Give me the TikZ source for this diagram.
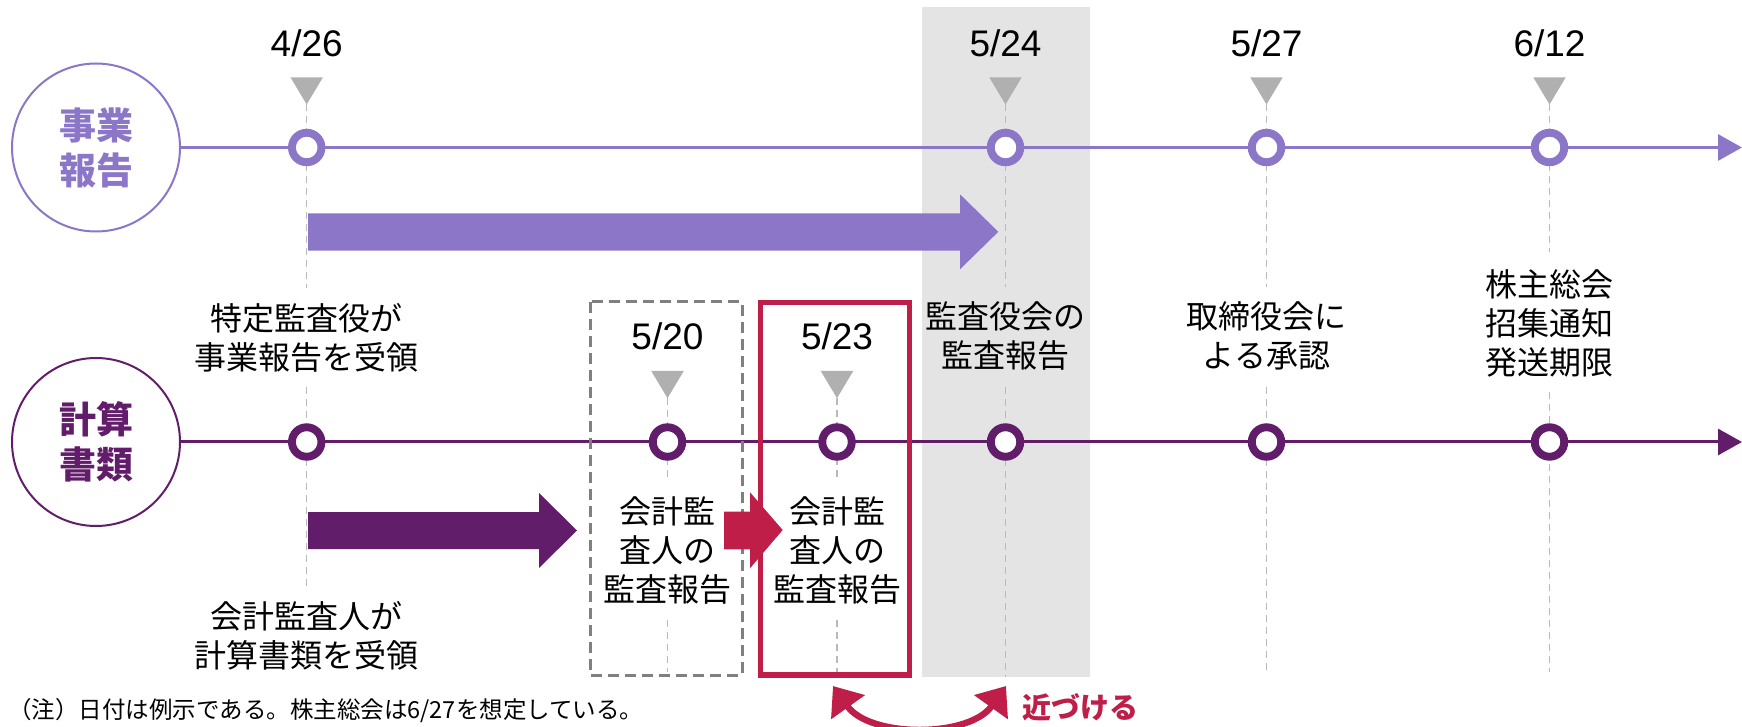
\documentclass[tikz,border=0pt]{standalone}
\usepackage{fontspec}
\setmainfont{Liberation Sans}
\newfontfamily\jp{Noto Sans CJK JP}
\usetikzlibrary{arrows.meta}
\definecolor{lpur}{RGB}{140,118,200}
\definecolor{dpur}{RGB}{98,29,106}
\definecolor{crim}{RGB}{190,30,72}
\definecolor{tric}{RGB}{176,176,176}
\definecolor{bgc}{RGB}{228,228,228}
\definecolor{guidec}{RGB}{185,185,185}
\definecolor{boxgray}{RGB}{128,128,128}
\begin{document}
\begin{tikzpicture}[x=0.5pt,y=-0.5pt,
  datelbl/.style={font=\fontsize{18.5}{22}\selectfont, inner sep=0pt},
  lbl/.style={font=\jp\fontsize{16}{19.5}\selectfont, align=center, inner sep=0pt},
  cat/.style={circle, draw, line width=1pt, minimum size=84pt, inner sep=0pt,
    font=\jp\bfseries\fontsize{18.5}{22.5}\selectfont, align=center},
  marker/.style={circle, draw, fill=white, line width=3.95pt, minimum size=14.75pt, inner sep=0pt},
  tl/.style={line width=1.5pt, -{Triangle[length=12pt,width=13pt]}},
  guide/.style={draw=guidec, line width=0.7pt, dash pattern=on 3.5pt off 2.5pt},
  dbox/.style={draw=boxgray, line width=1.5pt, dash pattern=on 5.5pt off 3pt},
  rbox/.style={draw=crim, line width=2.65pt},
]
\useasboundingbox (0,0) rectangle (1742,727);
% highlighted column
\fill[bgc] (922,7) rectangle (1090,677);
% guide lines
\draw[guide] (306.7,104.5) -- (306.7,288);
\draw[guide] (306.7,387) -- (306.7,587);
\draw[guide] (667.5,398) -- (667.5,480);
\draw[guide] (667.5,620) -- (667.5,672);
\draw[guide] (837,398) -- (837,480);
\draw[guide] (837,620) -- (837,672);
\draw[guide] (1005.5,104.5) -- (1005.5,287);
\draw[guide] (1005.5,387) -- (1005.5,677);
\draw[guide] (1266.5,104.5) -- (1266.5,287);
\draw[guide] (1266.5,387) -- (1266.5,672);
\draw[guide] (1549.5,104.5) -- (1549.5,252);
\draw[guide] (1549.5,392) -- (1549.5,672);
% category circles
\node[cat, draw=lpur, text=lpur] (biz) at (96,147.5) {事業\\報告};
\node[cat, draw=dpur, text=dpur] (fin) at (96,442) {計算\\書類};
% timelines
\coordinate (bizend) at (1742,147.5);
\coordinate (finend) at (1742,442);
\draw[tl, lpur] (biz.east) -- (bizend);
\draw[tl, dpur] (fin.east) -- (finend);
% block arrows
\fill[lpur] (308,213.3) -- (960,213.3) -- (960,194.3) -- (998.3,231.8) -- (960,269.3) -- (960,250.7) -- (308,250.7) -- cycle;
\fill[dpur] (308,512) -- (539,512) -- (539,493) -- (577,530.5) -- (539,568) -- (539,549) -- (308,549) -- cycle;
% boxes
\draw[dbox] (590,302) rectangle (742,675);
\draw[rbox] (760.5,302.5) rectangle (909.5,675);
\fill[crim] (724,511.7) -- (750,511.7) -- (750,492.3) -- (782.7,530) -- (750,568.3) -- (750,549.3) -- (724,549.3) -- cycle;
% triangles
\foreach \x/\y in {306.7/77.3, 1005.5/77.3, 1266.5/77.3, 1549.5/77.3, 667.5/371, 837/371}
  \fill[tric] (\x-16.25,\y) -- (\x+16.25,\y) -- (\x,\y+27.2) -- cycle;
% markers
\node[marker, draw=lpur] (t1) at (306.7,147.5) {};
\node[marker, draw=lpur] (t4) at (1005.5,147.5) {};
\node[marker, draw=lpur] (t5) at (1266.5,147.5) {};
\node[marker, draw=lpur] (t6) at (1549.5,147.5) {};
\node[marker, draw=dpur] (b1) at (306.7,442) {};
\node[marker, draw=dpur] (b2) at (667.5,442) {};
\node[marker, draw=dpur] (b3) at (837,442) {};
\node[marker, draw=dpur] (b4) at (1005.5,442) {};
\node[marker, draw=dpur] (b5) at (1266.5,442) {};
\node[marker, draw=dpur] (b6) at (1549.5,442) {};
% dates
\node[datelbl] (d1) at (306.7,43.5) {4/26};
\node[datelbl] (d4) at (1005.5,43.5) {5/24};
\node[datelbl] (d5) at (1266.5,43.5) {5/27};
\node[datelbl] (d6) at (1549.5,43.5) {6/12};
\node[datelbl] (d2) at (667.5,336.7) {5/20};
\node[datelbl] (d3) at (837,336.7) {5/23};
% labels
\node[lbl] (l1) at (306.7,338) {特定監査役が\\事業報告を受領};
\node[lbl] (l4) at (1005.5,336) {監査役会の\\監査報告};
\node[lbl] (l5) at (1266.5,336) {取締役会に\\よる承認};
\node[lbl] (l6) at (1549.5,323) {株主総会\\招集通知\\発送期限};
\node[lbl] (l2) at (667.5,550) {会計監\\査人の\\監査報告};
\node[lbl] (l3) at (837,550) {会計監\\査人の\\監査報告};
\node[lbl] (l7) at (306.7,636) {会計監査人が\\計算書類を受領};
% bring closer arrow
\coordinate (cl) at (833,686);
\coordinate (cr) at (1006,686);
\draw[crim, line width=3.2pt, {Triangle[length=13pt,width=20pt]}-{Triangle[length=13pt,width=20pt]}] (cl) .. controls (870,738) and (969,738) .. (cr);
\node[font=\jp\bfseries\fontsize{14.5}{17}\selectfont, text=crim, anchor=west, inner sep=0pt] (near) at (1022,707) {近づける};
% footnote
\node[font=\jp\fontsize{11.75}{14}\selectfont, anchor=west, inner sep=0pt] (note) at (8,711) {（注）日付は例示である。株主総会は6/27を想定している。};
\end{tikzpicture}
\end{document}
